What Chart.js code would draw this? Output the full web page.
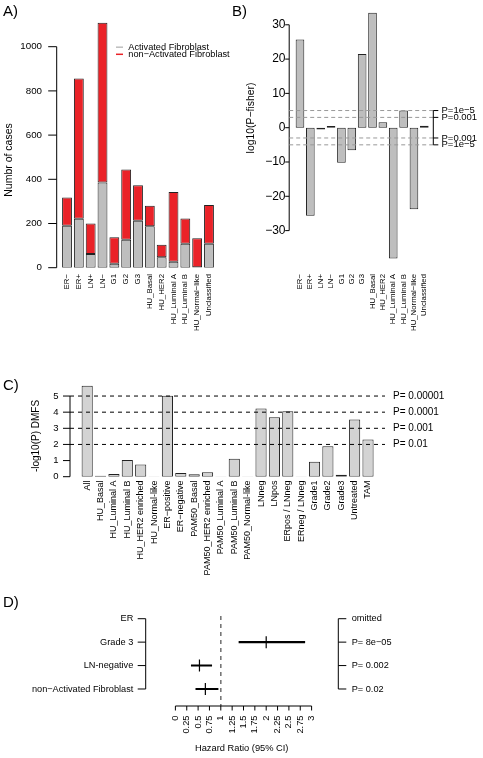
<!DOCTYPE html>
<html>
<head>
<meta charset="utf-8">
<script src="https://cdn.jsdelivr.net/npm/chart.js@4.4.1/dist/chart.umd.min.js"></script>
<style>
    body { margin: 0; background: #fff; }
    #wrap { position: relative; width: 483px; height: 758px; }
    #wrap canvas { position: absolute; left: 0; top: 0; }
</style>
</head>
<body>
<div id="wrap">
    <canvas id="panelA" width="483" height="758"></canvas>
    <canvas id="panelB" width="483" height="758"></canvas>
    <canvas id="panelC" width="483" height="758"></canvas>
    <canvas id="panelD" width="483" height="758"></canvas>
</div>
<script>
/*** Data ***/
const aCategories = ['ER−', 'ER+', 'LN+', 'LN−', 'G1', 'G2', 'G3', 'HU_Basal', 'HU_HER2',
    'HU_Luminal A', 'HU_Luminal B', 'HU_Normal−like', 'Unclassified'];
const aActivated = [190, 221, 62, 385, 18, 127, 212, 187, 47, 27, 108, 2, 108];
const aNonActivated = [128, 635, 138, 723, 120, 317, 161, 93, 57, 316, 115, 131, 176];
const aYTicks = [0, 200, 400, 600, 800, 1000];

const bCategories = aCategories;
const bLogP = [25.7, -25.7, -0.5, 0.5, -10.2, -6.6, 21.5, 33.5, 1.6, -38.1, 5.0, -23.8, 0.6];
const bYTicks = [-30, -20, -10, 0, 10, 20, 30];
const bThresholds = [5, 3, -3, -5];
const bThresholdLabels = ['P=1e−5', 'P=0.001', 'P=0.001', 'P=1e−5'];

const cCategories = ['All', 'HU_Basal', 'HU_Luminal A', 'HU_Luminal B', 'HU_HER2 enriched', 'HU_Normal-like',
    'ER−positive', 'ER−negative', 'PAM50_Basal', 'PAM50_HER2 enriched', 'PAM50_Luminal A', 'PAM50_Luminal B',
    'PAM50_Normal-like', 'LNneg', 'LNpos', 'ERpos / LNneg', 'ERneg / LNneg', 'Grade1', 'Grade2', 'Grade3',
    'Untreated', 'TAM'];
const cLogP = [5.63, 0.06, 0.17, 1.04, 0.75, 0.02, 5.01, 0.23, 0.15, 0.27, 0.02, 1.12, 0.02,
    4.22, 3.69, 4.06, 0.02, 0.93, 1.89, 0.12, 3.54, 2.30];
const cYTicks = [0, 1, 2, 3, 4, 5];
const cThresholds = [5, 4, 3, 2];
const cThresholdLabels = ['P= 0.00001', 'P= 0.0001', 'P= 0.001', 'P= 0.01'];

const dFactors = ['ER', 'Grade 3', 'LN-negative', 'non−Activated Fibroblast'];
const dHazardRatio = [null, 2.0, 0.53, 0.66];
const dCiLow = [null, 1.40, 0.35, 0.45];
const dCiHigh = [null, 2.85, 0.80, 0.94];
const dPValues = ['omitted', 'P= 8e−05', 'P= 0.002', 'P= 0.02'];
const dXTicks = [0, 0.25, 0.5, 0.75, 1, 1.25, 1.5, 1.75, 2, 2.25, 2.5, 2.75, 3];

/*** Drawing helpers ***/
const FONT = '"Liberation Sans", Arial, Helvetica, sans-serif';
const W = 483, H = 758;

function line(ctx, x1, y1, x2, y2, color, width, dash) {
    ctx.save();
    ctx.strokeStyle = color || '#000';
    ctx.lineWidth = width || 1;
    ctx.setLineDash(dash || []);
    ctx.beginPath();
    ctx.moveTo(x1, y1);
    ctx.lineTo(x2, y2);
    ctx.stroke();
    ctx.restore();
}

function text(ctx, str, x, y, size, align, baseline, rotate) {
    ctx.save();
    ctx.font = size + 'px ' + FONT;
    ctx.fillStyle = '#000';
    ctx.textAlign = align;
    ctx.textBaseline = baseline;
    ctx.translate(x, y);
    if (rotate) ctx.rotate(-Math.PI / 2);
    ctx.fillText(str, 0, 0);
    ctx.restore();
}

function pad(left, top, right, bottom) {
    return { left: left, top: top, right: W - right, bottom: H - bottom };
}

const baseOptions = {
    responsive: false,
    animation: false,
    devicePixelRatio: 1,
    events: [],
    plugins: { legend: { display: false }, tooltip: { enabled: false } }
};

/*** Panel A ***/
new Chart(document.getElementById('panelA'), {
    type: 'bar',
    data: {
        labels: aCategories,
        datasets: [
            { label: 'Activated Fibroblast', data: aActivated, backgroundColor: '#bebebe',
              borderColor: '#222', borderWidth: 1, borderSkipped: false },
            { label: 'non-Activated Fibroblast', data: aNonActivated, backgroundColor: '#ea2228',
              borderColor: '#222', borderWidth: 1, borderSkipped: false }
        ]
    },
    options: Object.assign({}, baseOptions, {
        layout: { padding: pad(61.1, 2.5, 214.9, 267.7) },
        datasets: { bar: { categoryPercentage: 1, barPercentage: 0.833 } },
        scales: {
            x: { stacked: true, display: false },
            y: { stacked: true, display: false, min: 0, max: 1200 }
        }
    }),
    plugins: [{
        id: 'panelAAxes',
        afterDraw(chart) {
            const ctx = chart.ctx, x = chart.scales.x, y = chart.scales.y;
            const ax = 56.7;
            line(ctx, ax, y.getPixelForValue(0), ax, y.getPixelForValue(1000));
            aYTicks.forEach(v => {
                const py = y.getPixelForValue(v);
                line(ctx, ax - 8.5, py, ax, py);
                text(ctx, String(v), 42, py, 9.75, 'right', 'middle');
            });
            aCategories.forEach((c, i) => text(ctx, c, x.getPixelForValue(i), 274, 7.8, 'right', 'middle', true));
            text(ctx, 'Numbr of cases', 9, 160, 10.5, 'center', 'middle', true);
            text(ctx, 'A)', 3, 16, 15, 'left', 'alphabetic');
            line(ctx, 116, 47.2, 123, 47.2, '#bebebe', 1.5);
            line(ctx, 116, 54.3, 123, 54.3, '#ea2228', 1.5);
            text(ctx, 'Activated Fibroblast', 128.3, 50, 9.2, 'left', 'alphabetic');
            text(ctx, 'non−Activated Fibroblast', 128.3, 57.3, 9.2, 'left', 'alphabetic');
        }
    }]
});

/*** Panel B ***/
new Chart(document.getElementById('panelB'), {
    type: 'bar',
    data: {
        labels: bCategories,
        datasets: [
            { data: bLogP, backgroundColor: '#bebebe', borderColor: '#222', borderWidth: 1, borderSkipped: false }
        ]
    },
    options: Object.assign({}, baseOptions, {
        layout: { padding: pad(294.8, 4.2, 429.5, 264.9) },
        datasets: { bar: { categoryPercentage: 1, barPercentage: 0.833 } },
        scales: {
            x: { display: false },
            y: { display: false, min: -40, max: 36 }
        }
    }),
    plugins: [{
        id: 'panelBAxes',
        afterDraw(chart) {
            const ctx = chart.ctx, x = chart.scales.x, y = chart.scales.y;
            const ax = 289.2, rx = 433.3;
            line(ctx, ax, y.getPixelForValue(-30), ax, y.getPixelForValue(30));
            bYTicks.forEach(v => {
                const py = y.getPixelForValue(v);
                line(ctx, ax - 4, py, ax, py);
                text(ctx, String(v).replace('-', '−'), 285.5, py, 12, 'right', 'middle');
            });
            bThresholds.forEach((v, i) => {
                const py = y.getPixelForValue(v);
                line(ctx, ax, py, rx, py, '#999', 1, [4, 3]);
                line(ctx, rx, py, rx + 5, py);
                text(ctx, bThresholdLabels[i], 441.5, py, 9.5, 'left', 'middle');
            });
            line(ctx, rx, y.getPixelForValue(5), rx, y.getPixelForValue(-5));
            bCategories.forEach((c, i) => text(ctx, c, x.getPixelForValue(i), 274, 7.8, 'right', 'middle', true));
            text(ctx, 'log10(P−fisher)', 251, 118, 10.4, 'center', 'middle', true);
            text(ctx, 'B)', 232, 16, 15, 'left', 'alphabetic');
        }
    }]
});

/*** Panel C ***/
new Chart(document.getElementById('panelC'), {
    type: 'bar',
    data: {
        labels: cCategories,
        datasets: [
            { data: cLogP, backgroundColor: '#d3d3d3', borderColor: '#222', borderWidth: 1, borderSkipped: false }
        ]
    },
    options: Object.assign({}, baseOptions, {
        layout: { padding: pad(80.5, 379.9, 374.7, 476.7) },
        datasets: { bar: { categoryPercentage: 1, barPercentage: 0.833 } },
        scales: {
            x: { display: false },
            y: { display: false, min: 0, max: 6 }
        }
    }),
    plugins: [{
        id: 'panelCAxes',
        afterDraw(chart) {
            const ctx = chart.ctx, x = chart.scales.x, y = chart.scales.y;
            const ax = 70;
            line(ctx, ax, y.getPixelForValue(0), ax, y.getPixelForValue(5));
            cYTicks.forEach(v => {
                const py = y.getPixelForValue(v);
                line(ctx, ax - 7, py, ax, py);
                text(ctx, String(v), 58.5, py, 9.5, 'right', 'middle');
            });
            cThresholds.forEach((v, i) => {
                const py = y.getPixelForValue(v);
                line(ctx, ax, py, 385, py, '#000', 1, [4, 4]);
                text(ctx, cThresholdLabels[i], 393, py, 10, 'left', 'middle');
            });
            cCategories.forEach((c, i) => text(ctx, c, x.getPixelForValue(i), 480.5, 9, 'right', 'middle', true));
            text(ctx, '-log10(P) DMFS', 36, 436, 10, 'center', 'middle', true);
            text(ctx, 'C)', 3, 390, 15, 'left', 'alphabetic');
        }
    }]
});

/*** Panel D ***/
new Chart(document.getElementById('panelD'), {
    type: 'bar',
    data: {
        labels: dFactors,
        datasets: [
            {
                type: 'bar',
                indexAxis: 'y',
                data: dFactors.map((f, i) => dCiLow[i] === null ? null : [dCiLow[i], dCiHigh[i]]),
                backgroundColor: '#000',
                borderWidth: 0,
                barThickness: 1.4
            },
            {
                type: 'scatter',
                data: dFactors.map((f, i) => ({ x: dHazardRatio[i], y: f })),
                pointStyle: 'line',
                rotation: 90,
                radius: 6,
                borderColor: '#000',
                borderWidth: 1.2,
                showLine: false
            }
        ]
    },
    options: Object.assign({}, baseOptions, {
        layout: { padding: pad(152.7, 607, 334.3, 700.7) },
        scales: {
            x: { type: 'linear', display: false, min: 0, max: 3 },
            y: { type: 'category', labels: dFactors, offset: true, display: false }
        }
    }),
    plugins: [{
        id: 'panelDAxes',
        beforeDatasetsDraw(chart) {
            const ctx = chart.ctx, x = chart.scales.x;
            const px = x.getPixelForValue(1);
            line(ctx, px, 616, px, 706, '#777', 1.6, [4, 4]);
        },
        afterDraw(chart) {
            const ctx = chart.ctx, x = chart.scales.x, y = chart.scales.y;
            const lx = 145.7, rx = 338.3, by = 706;
            line(ctx, lx, y.getPixelForValue(0), lx, y.getPixelForValue(3));
            line(ctx, rx, y.getPixelForValue(0), rx, y.getPixelForValue(3));
            dFactors.forEach((f, i) => {
                const py = y.getPixelForValue(i);
                line(ctx, lx - 8, py, lx, py);
                text(ctx, f, 133.3, py, 9.2, 'right', 'middle');
                line(ctx, rx, py, rx + 8, py);
                text(ctx, dPValues[i], 351.7, py, 9.2, 'left', 'middle');
            });
            line(ctx, x.getPixelForValue(0), by, x.getPixelForValue(3), by);
            dXTicks.forEach(v => {
                const px = x.getPixelForValue(v);
                line(ctx, px, by, px, by + 4.5);
                text(ctx, String(v), px, 715.5, 9.3, 'right', 'middle', true);
            });
            text(ctx, 'Hazard Ratio (95% CI)', 241.7, 748, 9.3, 'center', 'middle');
            text(ctx, 'D)', 3, 607, 15, 'left', 'alphabetic');
        }
    }]
});
</script>
</body>
</html>
